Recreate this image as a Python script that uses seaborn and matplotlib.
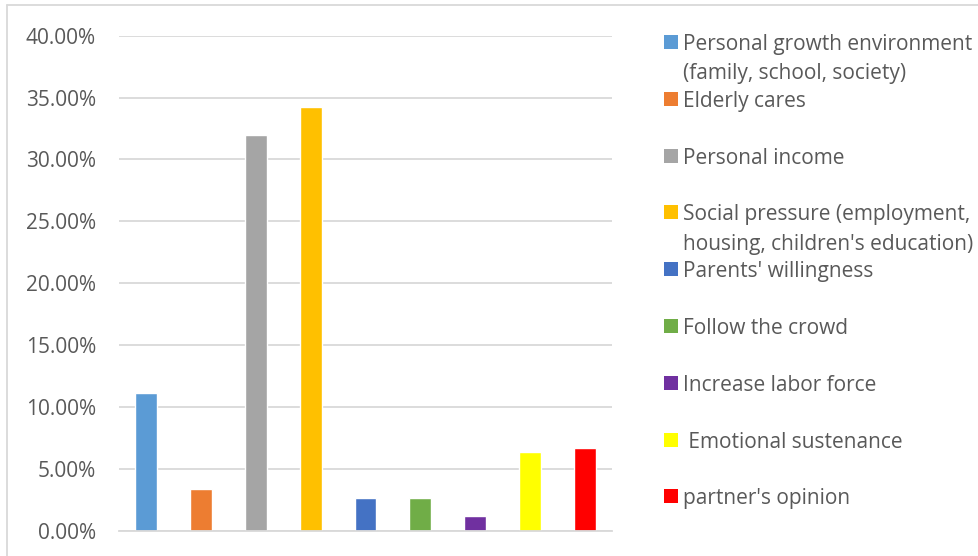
import matplotlib
matplotlib.use("Agg")
import matplotlib.pyplot as plt
from matplotlib.patches import Rectangle
from matplotlib.lines import Line2D
from matplotlib.ticker import FuncFormatter, MultipleLocator
import seaborn as sns
import pandas as pd

# Survey results: reasons influencing the decision
categories = [
    "Personal growth environment\n(family, school, society)",
    "Elderly cares",
    "Personal income",
    "Social pressure (employment,\nhousing, children's education)",
    "Parents' willingness",
    "Follow the crowd",
    "Increase labor force",
    " Emotional sustenance",
    "partner's opinion",
]
shares = [0.1112, 0.0337, 0.3197, 0.3423, 0.0264, 0.0264, 0.0119, 0.0636, 0.0668]
colors = ["#5B9BD5", "#ED7D31", "#A5A5A5", "#FFC000", "#4472C4",
          "#70AD47", "#7030A0", "#FFFF00", "#FF0000"]

df = pd.DataFrame({"reason": categories, "share": shares})

sns.set_theme(style="white")
plt.rcParams["font.family"] = ["Open Sans", "DejaVu Sans"]

W, H = 979, 556
fig = plt.figure(figsize=(W / 100, H / 100), dpi=100)
ax = fig.add_axes([119 / W, 1 - 530.7 / H, (612 - 119) / W, (530.7 - 35.7) / H])

sns.barplot(data=df, x="reason", y="share", hue="reason", palette=colors,
            width=0.4, legend=False, ax=ax, saturation=1)

ax.set_ylim(0, 0.40)
ax.set_xlim(-0.5, len(categories) - 0.5)
ax.yaxis.set_major_locator(MultipleLocator(0.05))
ax.yaxis.set_major_formatter(FuncFormatter(lambda v, p: f"{v * 100:.2f}%"))
ax.grid(axis="y", color="#D9D9D9", linewidth=1.3)
ax.set_axisbelow(True)
ax.set_xticks([])
ax.set_xlabel("")
ax.set_ylabel("")
for side in ("top", "right", "left"):
    ax.spines[side].set_visible(False)
ax.spines["bottom"].set_color("#D9D9D9")
ax.spines["bottom"].set_linewidth(1.3)
ax.tick_params(axis="y", length=0, pad=16.5, labelsize=15, labelcolor="#595959")

# Legend drawn as a column of swatches with labels
text_color = "#595959"
first_y = 42
step = 56.8
line_gap = 29.5
for i, (label, col) in enumerate(zip(categories, colors)):
    yc = first_y + i * step
    fig.add_artist(Rectangle((664 / W, 1 - (yc + 7) / H), 14 / W, 14 / H,
                             transform=fig.transFigure, facecolor=col,
                             edgecolor="none"))
    for k, line in enumerate(label.split("\n")):
        fig.text(683 / W, 1 - (yc + 8 + k * line_gap) / H, line, ha="left",
                 va="baseline", fontsize=15, color=text_color)

# Chart frame (top and left edges)
fig.add_artist(Line2D([7 / W, 7 / W], [0, 1 - 5 / H], transform=fig.transFigure,
                      color="#D9D9D9", linewidth=1.3))
fig.add_artist(Line2D([7 / W, 1], [1 - 5 / H, 1 - 5 / H], transform=fig.transFigure,
                      color="#D9D9D9", linewidth=1.3))

fig.savefig("out.png", dpi=100, facecolor="white")
